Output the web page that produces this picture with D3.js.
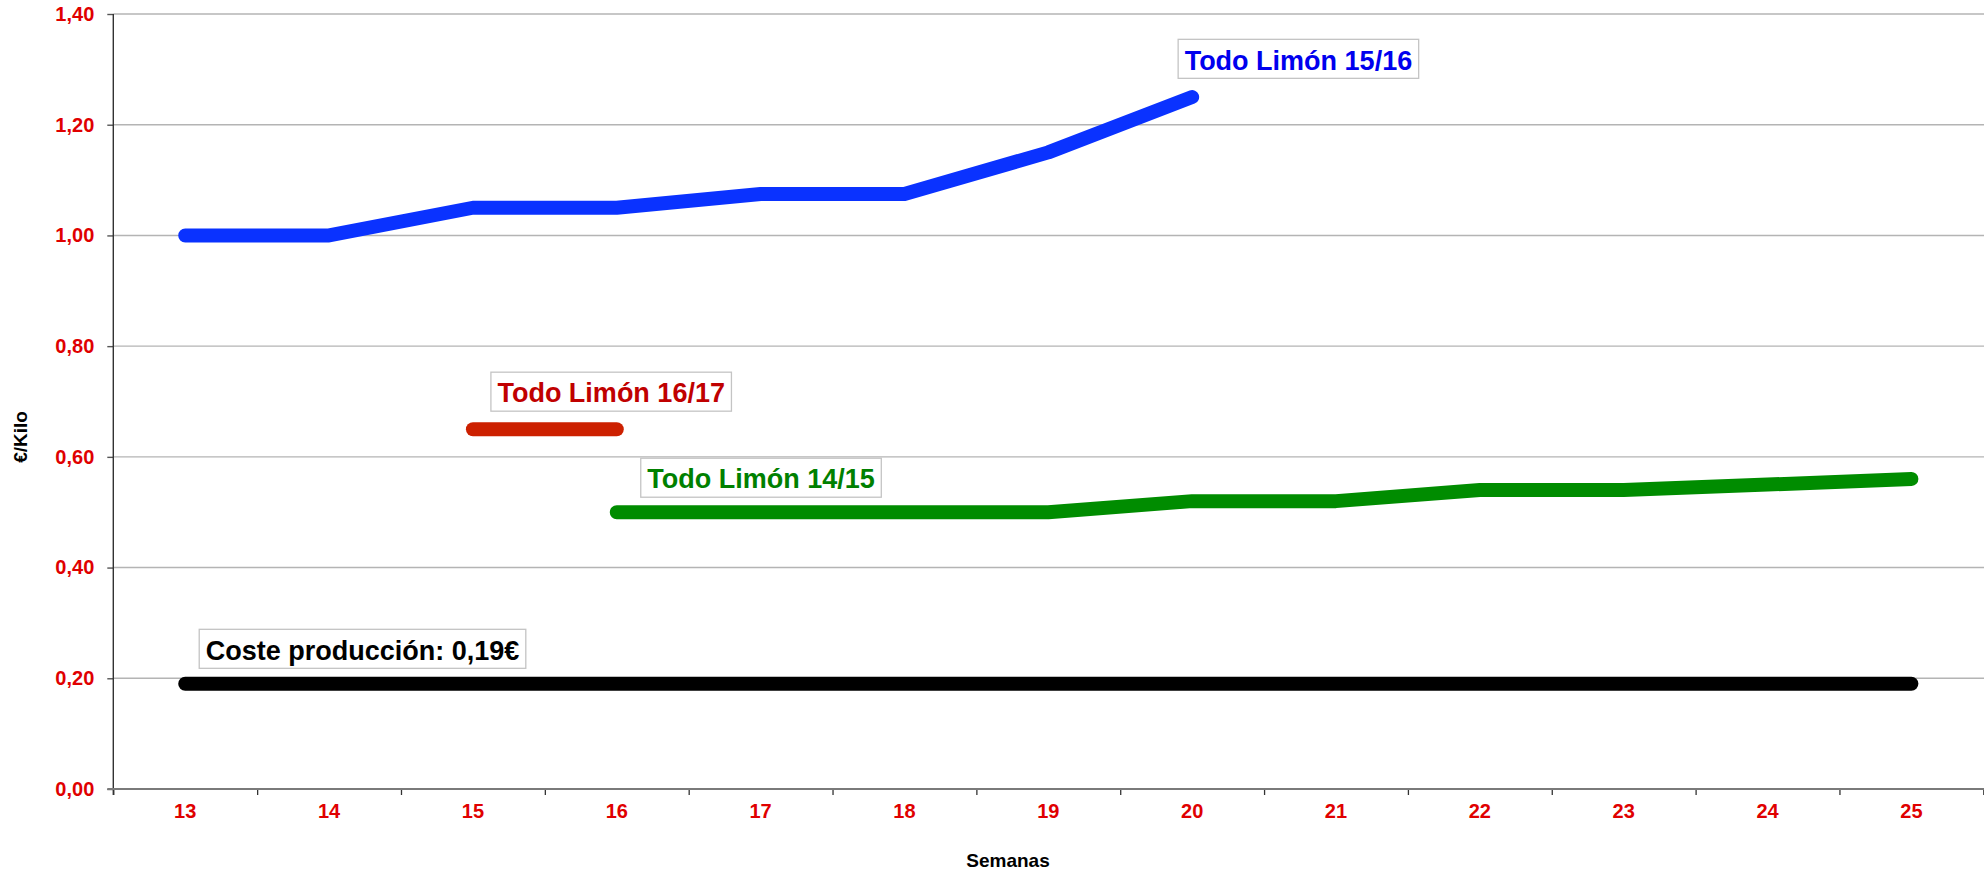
<!DOCTYPE html>
<html>
<head>
<meta charset="utf-8">
<script src="https://cdn.jsdelivr.net/npm/d3@7"></script>
<style>
  html, body { margin: 0; padding: 0; background: #fff; }
  svg { display: block; font-family: "Liberation Sans", Arial, sans-serif; }
</style>
</head>
<body>
<svg id="chart" width="1984" height="873"></svg>
<script>
// ---- data ----
const weeks = [13, 14, 15, 16, 17, 18, 19, 20, 21, 22, 23, 24, 25];
const yTicks = [0, 0.2, 0.4, 0.6, 0.8, 1.0, 1.2, 1.4];

const costeWeeks = [13, 14, 15, 16, 17, 18, 19, 20, 21, 22, 23, 24, 25];
const costeValues = [0.19, 0.19, 0.19, 0.19, 0.19, 0.19, 0.19, 0.19, 0.19, 0.19, 0.19, 0.19, 0.19];

const l1415Weeks = [16, 17, 18, 19, 20, 21, 22, 23, 24, 25];
const l1415Values = [0.50, 0.50, 0.50, 0.50, 0.52, 0.52, 0.54, 0.54, 0.55, 0.56];

const l1617Weeks = [15, 16];
const l1617Values = [0.65, 0.65];

const l1516Weeks = [13, 14, 15, 16, 17, 18, 19, 20];
const l1516Values = [1.00, 1.00, 1.05, 1.05, 1.075, 1.075, 1.15, 1.25];

const seriesNames = ["Coste producción: 0,19€", "Todo Limón 14/15", "Todo Limón 16/17", "Todo Limón 15/16"];
const xTitle = "Semanas";
const yTitle = "€/Kilo";

// ---- layout / style ----
const plot = { left: 113.3, right: 1983.3, top: 14, bottom: 789 };
const styles = [
  { line: "#000000", text: "#000000", anchorWeek: 13, anchorIdx: 0, dx: 14, dy: -54.5 },
  { line: "#008C00", text: "#008000", anchorWeek: 16, anchorIdx: 0, dx: 24, dy: -54 },
  { line: "#CC2000", text: "#C00000", anchorWeek: 15, anchorIdx: 0, dx: 18, dy: -57 },
  { line: "#0A32FF", text: "#0000EE", anchorWeek: 20, anchorIdx: 7, dx: -14, dy: -57.7 }
];
const series = [
  { weeks: costeWeeks, values: costeValues },
  { weeks: l1415Weeks, values: l1415Values },
  { weeks: l1617Weeks, values: l1617Values },
  { weeks: l1516Weeks, values: l1516Values }
];

const svg = d3.select("#chart");

const x = d3.scaleBand().domain(weeks).range([plot.left, plot.right]).padding(0);
const xc = w => x(w) + x.bandwidth() / 2;
const xEdge = d3.scaleLinear().domain([0, weeks.length]).range([plot.left, plot.right]);
const y = d3.scaleLinear().domain([0, 1.4]).range([plot.bottom, plot.top]);

const locale = d3.formatLocale({ decimal: ",", thousands: ".", grouping: [3], currency: ["", "€"] });
const fmt = locale.format(".2f");

// grid lines
svg.append("g").selectAll("line").data(yTicks.filter(d => d > 0)).join("line")
  .attr("x1", plot.left).attr("x2", 1984)
  .attr("y1", d => y(d)).attr("y2", d => y(d))
  .attr("stroke", "#b4b4b4").attr("stroke-width", 1.4);

// y axis
const yAxis = svg.append("g").attr("transform", `translate(${plot.left},0)`)
  .call(d3.axisLeft(y).tickValues(yTicks).tickFormat(fmt).tickSize(6).tickPadding(13));
yAxis.select(".domain").remove();
yAxis.selectAll(".tick line").attr("stroke", "#555").attr("stroke-width", 1.4);
yAxis.selectAll(".tick text")
  .attr("fill", "#E00000").attr("font-size", 20).attr("font-weight", "bold")
  .attr("font-family", "'Liberation Sans', Arial, sans-serif");
svg.append("line")
  .attr("x1", plot.left).attr("x2", plot.left)
  .attr("y1", plot.top).attr("y2", plot.bottom + 6)
  .attr("stroke", "#333").attr("stroke-width", 1.4);

// x axis: boundary ticks
const xTickG = svg.append("g").attr("transform", `translate(0,${plot.bottom})`)
  .call(d3.axisBottom(xEdge).tickValues(d3.range(0, weeks.length + 1)).tickFormat("").tickSize(6));
xTickG.select(".domain").remove();
xTickG.selectAll(".tick line").attr("stroke", "#333").attr("stroke-width", 1.3);
svg.append("line")
  .attr("x1", plot.left - 6).attr("x2", 1984)
  .attr("y1", plot.bottom).attr("y2", plot.bottom)
  .attr("stroke", "#7a7a7a").attr("stroke-width", 2);

// x axis labels
const xLab = svg.append("g").attr("transform", `translate(0,${plot.bottom})`)
  .call(d3.axisBottom(x).tickSize(0).tickPadding(15));
xLab.select(".domain").remove();
xLab.selectAll(".tick text")
  .attr("fill", "#E00000").attr("font-size", 20).attr("font-weight", "bold")
  .attr("font-family", "'Liberation Sans', Arial, sans-serif");

// axis titles
svg.append("text").attr("x", 1008).attr("y", 867)
  .attr("text-anchor", "middle").attr("font-size", 19).attr("font-weight", "bold")
  .attr("fill", "#000").text(xTitle);
svg.append("text").attr("transform", "translate(27,437) rotate(-90)")
  .attr("text-anchor", "middle").attr("font-size", 19).attr("font-weight", "bold")
  .attr("fill", "#000").text(yTitle);

// lines
const line = d3.line().x(d => xc(d[0])).y(d => y(d[1]));
series.forEach((s, i) => {
  const pts = s.weeks.map((w, j) => [w, s.values[j]]);
  svg.append("path").datum(pts)
    .attr("d", line)
    .attr("fill", "none")
    .attr("stroke", styles[i].line)
    .attr("stroke-width", 14)
    .attr("stroke-linecap", "round")
    .attr("stroke-linejoin", "round");
});

// labels with boxes
series.forEach((s, i) => {
  const st = styles[i];
  const bx = xc(st.anchorWeek) + st.dx;
  const by = y(s.values[st.anchorIdx]) + st.dy;
  const g = svg.append("g");
  const rect = g.append("rect");
  const t = g.append("text")
    .attr("x", bx + 6.5).attr("y", by + 30.2)
    .attr("font-size", 27).attr("font-weight", "bold")
    .attr("fill", st.text).text(seriesNames[i]);
  const w = t.node().getComputedTextLength();
  rect.attr("x", bx).attr("y", by).attr("width", w + 13).attr("height", 39)
    .attr("fill", "#fff").attr("stroke", "#c4c4c4").attr("stroke-width", 1.3);
});
</script>
</body>
</html>
